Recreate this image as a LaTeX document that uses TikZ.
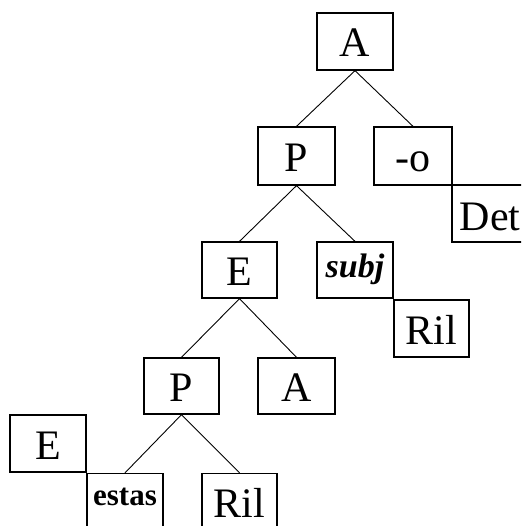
\documentclass[tikz,border=0pt]{standalone}
\usepackage{fontspec}
\setmainfont{Liberation Serif}
\begin{document}
\begin{tikzpicture}[x=1pt,y=-1pt,
  box/.style={draw, line width=1.3pt, inner sep=0pt, minimum width=76pt, minimum height=57pt,
    font=\fontsize{42}{42}\selectfont, text height=31pt, text depth=0pt},
  smallbox/.style={box, font=\fontsize{31}{31}\bfseries\selectfont, text height=7pt},
  subjbox/.style={box, minimum height=56pt, font=\fontsize{34}{34}\bfseries\itshape\selectfont, text height=14pt},
  branch/.style={line width=0.9pt}]
\clip (0,0) rectangle (521,526);
\fill[white] (0,0) rectangle (521,526);
\node[box] (A1) at (355,41.5) {A};
\node[box, minimum width=77pt, minimum height=58pt] (P1) at (296.5,156) {P};
\node[box, minimum width=78pt, minimum height=58pt, text height=32pt] (O) at (413,156) {-o};
\node[box, text height=33pt] (Det) at (490,213.5) {Det};
\node[box, minimum width=75pt, minimum height=56pt] (E1) at (239.5,270) {E};
\node[subjbox] (S) at (355,270) {subj};
\node[box, minimum width=75pt] (R1) at (431.5,328.5) {Ril};
\node[box, minimum width=75pt, minimum height=56pt] (P2) at (181.5,386) {P};
\node[box, minimum width=77pt, minimum height=56pt] (A2) at (296.5,386) {A};
\node[box] (E2) at (48,443.5) {E};
\node[smallbox] (ES) at (125,502) {estas};
\node[box, minimum width=75pt] (R2) at (239.5,502) {Ril};
\draw[branch] (A1.south) -- (P1.north);
\draw[branch] (A1.south) -- (O.north);
\draw[branch] (P1.south) -- (E1.north);
\draw[branch] (P1.south) -- (S.north);
\draw[branch] (E1.south) -- (P2.north);
\draw[branch] (E1.south) -- (A2.north);
\draw[branch] (P2.south) -- (ES.north);
\draw[branch] (P2.south) -- (R2.north);
\end{tikzpicture}
\end{document}
